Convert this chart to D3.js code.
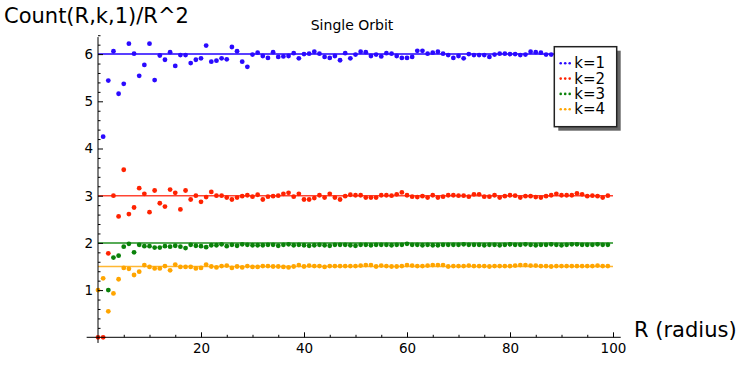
<!DOCTYPE html>
<html lang="en">
<head>
  <meta charset="UTF-8">
  <title>Single Orbit</title>
  <style>
    body { margin: 0; background: #fff; }
    svg { display: block; font-family: "DejaVu Sans", sans-serif; }
  </style>
</head>
<body>
  <svg class="chart"></svg>
  <script src="https://cdn.jsdelivr.net/npm/d3@7"></script>
  <script>
    var w = 744;
    var h = 369;

    // R runs 0..99, null = no visible point
    var radius = d3.range(0, 100);
    var labels = ["k=1", "k=2", "k=3", "k=4"];
    var limits = [6, 3, 2, 1.5];
    var dotColors = ["#2a0aff", "#ff2200", "#0a820a", "#ffa500"];
    var lineColors = ["#2200ff", "#ff4433", "#1f8f1f", "#ffb733"];

    var k1 = [null, 4.25, 5.44, 6.06, 5.16, 5.37, 6.22, 6.01, 5.54, 5.77,
      6.22, 5.45, 5.97, 5.88, 6.04, 5.75, 5.98, 5.98, 5.81, 5.88,
      5.91, 6.18, 5.84, 5.86, 5.91, 5.89, 6.15, 6.06, 5.84, 5.73,
      5.99, 6.03, 5.96, 5.92, 6.04, 5.94, 5.95, 5.96, 6.02, 5.91,
      6.00, 6.01, 6.05, 6.01, 5.94, 5.92, 5.96, 5.87, 6.02, 5.91,
      5.99, 6.05, 6.04, 5.96, 5.99, 5.95, 6.02, 6.01, 5.96, 5.92,
      5.92, 5.94, 6.07, 6.07, 6.01, 6.03, 6.05, 6.01, 5.98, 5.92,
      5.96, 5.91, 6.00, 5.98, 5.98, 5.98, 5.94, 5.99, 6.01, 6.01,
      6.00, 6.00, 5.98, 5.99, 6.05, 6.04, 6.03, 5.99, 5.99, 6.00,
      6.01, 5.99, 6.00, 6.02, 5.99, 6.00, 6.01, 5.99, 6.00, 6.00];

    var k2 = [0, 0, 1.78, 3.00, 2.56, 3.55, 2.61, 2.75, 3.16, 3.04,
      2.65, 3.11, 2.84, 2.77, 3.13, 3.06, 2.71, 3.11, 2.92, 3.00,
      2.87, 2.97, 3.08, 3.00, 3.00, 2.96, 2.92, 2.96, 2.99, 3.01,
      2.98, 3.02, 2.92, 2.98, 2.99, 3.00, 3.04, 3.06, 2.98, 3.04,
      2.92, 2.92, 2.95, 3.01, 2.96, 3.04, 2.96, 2.92, 2.99, 3.02,
      3.01, 3.01, 2.96, 2.96, 2.96, 3.01, 3.01, 3.00, 3.03, 3.07,
      3.01, 2.98, 2.97, 2.99, 2.96, 3.01, 2.96, 2.98, 3.01, 3.01,
      3.00, 3.00, 2.98, 3.03, 3.03, 2.98, 2.98, 3.01, 2.96, 2.99,
      3.01, 3.00, 2.96, 2.99, 2.99, 2.97, 2.96, 2.99, 3.01, 3.04,
      3.01, 3.01, 3.01, 3.05, 3.03, 2.99, 3.00, 2.99, 2.96, 3.00];

    var k3 = [null, null, 1.00, 1.69, 1.73, 1.92, 1.98, 1.80, 1.96, 1.93,
      1.93, 1.90, 1.90, 1.93, 1.92, 1.94, 1.92, 1.89, 1.96, 1.94,
      1.93, 1.91, 1.95, 1.95, 1.97, 1.93, 1.96, 1.94, 1.97, 1.96,
      1.95, 1.95, 1.95, 1.96, 1.96, 1.94, 1.96, 1.97, 1.95, 1.96,
      1.95, 1.94, 1.95, 1.96, 1.95, 1.94, 1.96, 1.96, 1.96, 1.95,
      1.94, 1.96, 1.96, 1.95, 1.96, 1.96, 1.96, 1.95, 1.96, 1.96,
      1.98, 1.96, 1.96, 1.95, 1.96, 1.95, 1.95, 1.96, 1.96, 1.96,
      1.96, 1.97, 1.96, 1.96, 1.96, 1.95, 1.96, 1.96, 1.95, 1.96,
      1.97, 1.96, 1.96, 1.97, 1.96, 1.95, 1.96, 1.96, 1.97, 1.96,
      1.95, 1.96, 1.97, 1.97, 1.96, 1.96, 1.96, 1.97, 1.96, 1.96];

    var k4 = [1.00, 1.25, 0.55, 0.93, 1.23, 1.47, 1.45, 1.32, 1.39, 1.53,
      1.49, 1.46, 1.46, 1.51, 1.42, 1.54, 1.49, 1.49, 1.49, 1.46,
      1.47, 1.54, 1.50, 1.48, 1.51, 1.52, 1.47, 1.50, 1.48, 1.51,
      1.49, 1.49, 1.51, 1.51, 1.50, 1.50, 1.49, 1.48, 1.50, 1.53,
      1.50, 1.52, 1.51, 1.51, 1.49, 1.51, 1.51, 1.51, 1.51, 1.51,
      1.51, 1.52, 1.53, 1.53, 1.50, 1.52, 1.51, 1.50, 1.50, 1.51,
      1.53, 1.52, 1.51, 1.51, 1.52, 1.53, 1.53, 1.53, 1.50, 1.51,
      1.51, 1.51, 1.52, 1.51, 1.51, 1.51, 1.50, 1.51, 1.51, 1.51,
      1.51, 1.52, 1.53, 1.53, 1.52, 1.52, 1.51, 1.51, 1.50, 1.51,
      1.51, 1.51, 1.51, 1.51, 1.51, 1.51, 1.51, 1.52, 1.51, 1.51];

    var series = [k1, k2, k3, k4];

    var xTicks = [20, 40, 60, 80, 100];
    var yTicks = [1, 2, 3, 4, 5, 6];

    var x = d3.scaleLinear().domain([0, 100]).range([98, 613]);
    var y = d3.scaleLinear().domain([0, 6]).range([337.3, 54.1]);

    var svg = d3.select(".chart").attr("width", w).attr("height", h);

    // reference lines
    svg.selectAll("line.limit")
      .data(limits)
      .enter()
      .append("line")
      .attr("class", "limit")
      .attr("x1", x(0))
      .attr("x2", x(100))
      .attr("y1", d => y(d))
      .attr("y2", d => y(d))
      .attr("stroke", (d, i) => lineColors[i])
      .attr("stroke-width", 1.5);

    // points
    series.forEach(function(vals, i) {
      var pts = radius.map((r, j) => ({r: r, v: vals[j]})).filter(d => d.v !== null);
      svg.append("g")
        .selectAll("circle")
        .data(pts)
        .enter()
        .append("circle")
        .attr("cx", d => x(d.r))
        .attr("cy", d => y(d.v))
        .attr("r", 2.4)
        .attr("fill", dotColors[i]);
    });

    // axes
    var minorY = d3.range(0, 6.41, 0.2).filter(v => Math.abs(v - Math.round(v)) > 0.01);
    var minorX = d3.range(5, 101, 5).filter(v => v % 20 !== 0);

    svg.append("g")
      .attr("transform", "translate(" + x(0) + ",0)")
      .call(d3.axisLeft(y).tickValues(minorY).tickSize(-2.5).tickFormat(""))
      .call(g => g.select(".domain").remove());

    svg.append("g")
      .attr("transform", "translate(" + x(0) + ",0)")
      .call(d3.axisLeft(y).tickValues(yTicks).tickSize(-5).tickPadding(5).tickFormat(d3.format("d")))
      .call(g => g.select(".domain").remove())
      .call(g => g.selectAll("text").attr("font-size", 13.5).attr("font-family", "DejaVu Sans"));

    svg.append("g")
      .attr("transform", "translate(0," + y(0) + ")")
      .call(d3.axisBottom(x).tickValues(minorX).tickSize(-2.5).tickFormat(""))
      .call(g => g.select(".domain").remove());

    svg.append("g")
      .attr("transform", "translate(0," + y(0) + ")")
      .call(d3.axisBottom(x).tickValues(xTicks).tickSize(-5).tickPadding(6).tickFormat(d3.format("d")))
      .call(g => g.select(".domain").remove())
      .call(g => g.selectAll("text").attr("font-size", 13.5).attr("font-family", "DejaVu Sans"));

    svg.append("line")
      .attr("x1", x(-2.2)).attr("x2", x(101.5))
      .attr("y1", y(0)).attr("y2", y(0))
      .attr("stroke", "#000").attr("stroke-width", 1);
    svg.append("line")
      .attr("x1", x(0)).attr("x2", x(0))
      .attr("y1", y(-0.12)).attr("y2", y(6.36))
      .attr("stroke", "#000").attr("stroke-width", 1);

    // texts
    svg.append("text").text("Count(R,k,1)/R^2")
      .attr("x", 4).attr("y", 23).attr("font-size", 21);
    svg.append("text").text("Single Orbit")
      .attr("x", 352).attr("y", 30).attr("font-size", 14).attr("text-anchor", "middle");
    svg.append("text").text("R (radius)")
      .attr("x", 634).attr("y", 337).attr("font-size", 21);

    // legend
    var lg = svg.append("g");
    lg.append("rect")
      .attr("x", 558.3).attr("y", 50.7).attr("width", 62.4).attr("height", 80)
      .attr("fill", "#666");
    lg.append("rect")
      .attr("x", 554.3).attr("y", 46.7).attr("width", 62.4).attr("height", 80)
      .attr("fill", "#fff").attr("stroke", "#222").attr("stroke-width", 1.5);

    var items = lg.selectAll("g.item")
      .data(labels)
      .enter()
      .append("g")
      .attr("class", "item")
      .attr("transform", (d, i) => "translate(0," + (68.3 + i * 15.3) + ")");
    items.each(function(d, i) {
      d3.select(this).selectAll("circle")
        .data([560.7, 565.2, 569.7])
        .enter()
        .append("circle")
        .attr("cx", c => c)
        .attr("cy", -5)
        .attr("r", 1.3)
        .attr("fill", dotColors[i]);
    });
    items.append("text")
      .text(d => d)
      .attr("x", 574.3)
      .attr("y", 0)
      .attr("font-size", 15);
  </script>
</body>
</html>
